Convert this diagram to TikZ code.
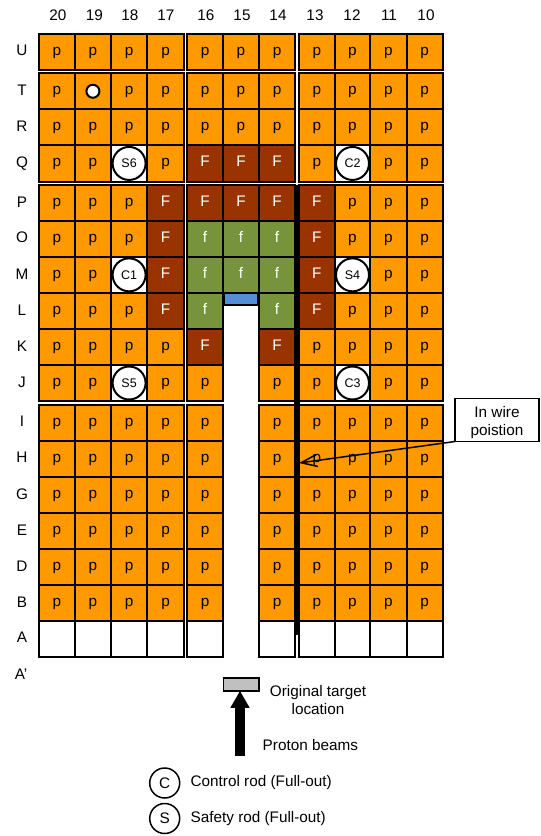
\documentclass[tikz,border=0pt]{standalone}
\usepackage{fontspec}
\setmainfont{Liberation Sans}
\usepackage{xcolor}
\usepackage{tikz}
\usetikzlibrary{shapes,arrows.meta,positioning}

\definecolor{pincolor}{HTML}{FF9900}
\definecolor{Fcolor}{HTML}{993300}
\definecolor{fcolor}{HTML}{77933C}
\definecolor{windowcolor}{HTML}{558ED5}
\definecolor{targetcolor}{HTML}{C0C0C0}

\def\colleft{{39,75,110.8,147.4,187.2,223,259,299,334.6,370.4,406.6}}
\def\colright{{75,110.8,147.4,183.8,223,259,295.2,334.6,370.4,406.6,442.6}}

\tikzset{
    cell/.style={draw, rectangle, line width=2pt, inner sep=0pt, outer sep=0pt, anchor=north west, text height=9pt, text depth=2pt},
    cell p/.style={fill=pincolor, text=black, node contents={p}},
    cell F/.style={fill=Fcolor, text=white, node contents={F}},
    cell f/.style={fill=fcolor, text=white, node contents={f}},
    cell o/.style={fill=pincolor, node contents={}},
    cell w/.style={fill=white, node contents={}},
    axislabel/.style={text height=11pt, text depth=0pt, inner sep=0pt},
    rodmark/.style={draw, circle, fill=white, line width=2pt, minimum size=33pt, inner sep=0pt, font=\fontsize{12.5}{15}\selectfont},
    keymark/.style={draw, circle, line width=1.5pt, minimum size=30pt, inner sep=0pt},
}

\begin{document}
\begin{tikzpicture}[x=1pt, y=-1pt, every node/.style={font=\fontsize{15.3}{18}\selectfont}]
    \useasboundingbox (0,0) rectangle (541,836);

    % Core map, one row of cells at a time (n: no cell)
    \foreach \rowname/\ytop/\ybot/\cells in {
        U/33.5/70/{p,p,p,p,p,p,p,p,p,p,p},
        T/73.2/109.3/{p,o,p,p,p,p,p,p,p,p,p},
        R/109.3/145.3/{p,p,p,p,p,p,p,p,p,p,p},
        Q/145.3/181.6/{p,p,w,p,F,F,F,p,w,p,p},
        P/185.2/220.7/{p,p,p,F,F,F,F,F,p,p,p},
        O/220.7/256.7/{p,p,p,F,f,f,f,F,p,p,p},
        M/256.7/293/{p,p,w,F,f,f,f,F,w,p,p},
        L/293/329/{p,p,p,F,f,n,f,F,p,p,p},
        K/329/365/{p,p,p,p,F,n,F,p,p,p,p},
        J/365/401/{p,p,w,p,p,n,p,p,w,p,p},
        I/404.8/440.7/{p,p,p,p,p,n,p,p,p,p,p},
        H/440.7/476.7/{p,p,p,p,p,n,p,p,p,p,p},
        G/476.7/513/{p,p,p,p,p,n,p,p,p,p,p},
        E/513/549/{p,p,p,p,p,n,p,p,p,p,p},
        D/549/585/{p,p,p,p,p,n,p,p,p,p,p},
        B/585/620.7/{p,p,p,p,p,n,p,p,p,p,p},
        A/620.7/656.7/{w,w,w,w,w,n,w,w,w,w,w}} {
        \node[axislabel] (label-\rowname) at (22,{(\ytop+\ybot)/2-1.3}) {\rowname};
        \foreach \kind [count=\ci] in \cells {
            \if\kind n\else
                \pgfmathtruncatemacro\colnum{21-\ci}
                \pgfmathsetmacro\xl{\colleft[int(\ci-1)]}
                \pgfmathsetmacro\xr{\colright[int(\ci-1)]}
                \pgfmathsetmacro\cw{\xr-\xl}
                \pgfmathsetmacro\ch{\ybot-\ytop}
                \node[cell, cell \kind, name=\rowname-\colnum, minimum width=\cw pt, minimum height=\ch pt, at={(\xl,\ytop)}];
            \fi
        }
    }
    \node[axislabel] (label-Aprime) at (21,674) {A'};

    % Column numbers
    \foreach \colnum/\xc in {20/58,19/94.5,18/130,17/166,16/206,15/242,14/278,13/315,12/352,11/389,10/426} {
        \node[axislabel] (label-\colnum) at (\xc,15) {\colnum};
    }

    % Window under row M
    \node[cell, anchor=north, fill=windowcolor, minimum width=34pt, minimum height=12pt, text height=0pt, text depth=0pt] (window) at (M-15.south) {};

    % Rods and the small mark in T-19
    \foreach \rodcell/\rodname in {Q-18/S6,Q-12/C2,M-18/C1,M-12/S4,J-18/S5,J-12/C3} {
        \node[rodmark] (\rodname) at (\rodcell) {\rodname};
    }
    \node[draw, circle, fill=white, line width=2pt, minimum size=13pt, inner sep=0pt] (mark) at (T-19) {};

    % In wire line
    \coordinate (wiretop) at (297,185);
    \coordinate (wirebot) at (297,635);
    \coordinate (wirepoint) at (299,463);
    \draw[line width=5.5pt] (wiretop) -- (wirebot);

    \node[draw, rectangle, fill=white, line width=1.5pt, inner sep=0pt, outer sep=0pt, minimum width=84pt, minimum height=43pt, align=center] (wirebox) at (497,420) {\rule{0pt}{17pt}In wire\\poistion};
    \draw[line width=1.5pt, -{Straight Barb[length=16pt,width=12pt]}] (wirebox.south west) -- (wirepoint);

    % Target and beam
    \node[draw, rectangle, fill=targetcolor, line width=1.5pt, inner sep=0pt, outer sep=0pt, minimum width=35.5pt, minimum height=13pt] (target) at (241,684.3) {};
    \node[align=center, inner sep=0pt, right=11pt of target, yshift=-15.5pt] (targetlabel) {Original target\\location};
    \coordinate (beamstart) at (240,755.7);
    \draw[line width=10pt, -{Triangle[length=17pt,width=18pt]}] (beamstart) -- (beamstart |- target.south);
    \node[inner sep=0pt, anchor=west] (beamlabel) at (262.5,745.5) {Proton beams};

    % Key
    \node[keymark] (keyC) at (164.7,783) {C};
    \node[keymark, below=4pt of keyC] (keyS) {S};
    \node[inner sep=0pt, right=10pt of keyC] (keyCtext) {Control rod (Full-out)};
    \node[inner sep=0pt, right=10pt of keyS] (keyStext) {Safety rod (Full-out)};
\end{tikzpicture}
\end{document}
